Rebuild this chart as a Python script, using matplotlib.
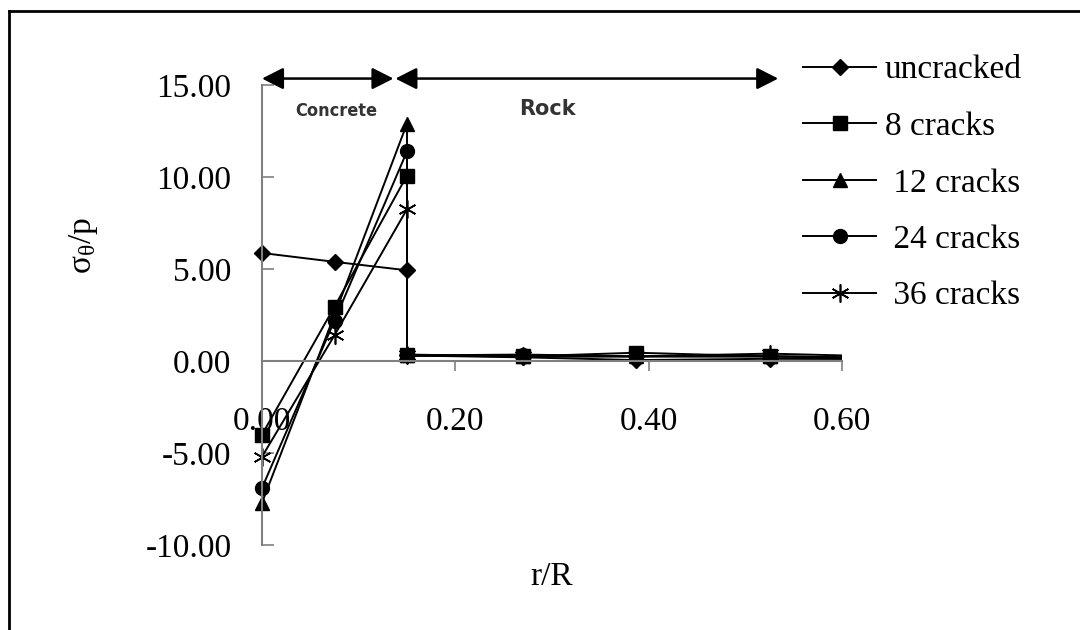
"""Hoop stress ratio across the concrete lining and the rock, cracked vs uncracked."""

import matplotlib

matplotlib.use("Agg")
import matplotlib.pyplot as plt
from matplotlib.lines import Line2D
from matplotlib.patches import Rectangle
from matplotlib.ticker import FormatStrFormatter

# r/R stations (the 0.15 interface is listed twice: concrete side, rock side)
r_over_R = [0.0, 0.075, 0.15, 0.15, 0.27, 0.387, 0.525, 0.68]

uncracked = [5.87, 5.39, 4.93, 0.30, 0.20, 0.05, 0.12, 0.10]
cracks_8 = [-4.0, 2.95, 10.08, 0.35, 0.25, 0.45, 0.25, 0.15]
cracks_12 = [-7.7, 2.5, 12.9, 0.30, 0.25, 0.25, 0.25, 0.15]
cracks_24 = [-6.9, 2.2, 11.39, 0.30, 0.35, 0.25, 0.25, 0.15]
cracks_36 = [-5.2, 1.4, 8.25, 0.30, 0.25, 0.25, 0.40, 0.20]

series_labels = ["uncracked", "8 cracks", " 12 cracks", " 24 cracks", " 36 cracks"]

y_ticks = [-10, -5, 0, 5, 10, 15]
x_ticks = [0.0, 0.2, 0.4, 0.6]

# zone markers drawn above the plot
concrete_span = (0.0, 0.136)
rock_span = (0.138, 0.534)
zone_level = 15.35

plt.rcParams.update({
    "font.family": ["Liberation Serif", "DejaVu Serif"],
    "font.size": 24,
})

fig = plt.figure(figsize=(10.8, 6.3), dpi=100)
ax = fig.add_axes([262 / 1080, 1 - 545 / 630, 580 / 1080, 460 / 630])

styles = [
    dict(marker="D", markersize=8),
    dict(marker="s", markersize=10),
    dict(marker="^", markersize=10),
    dict(marker="o", markersize=10),
    dict(marker=(6, 2, 0), markersize=13, markeredgewidth=1.2),
]
all_series = [uncracked, cracks_8, cracks_12, cracks_24, cracks_36]
# clip at the right end of the x axis only, so markers sitting on the y axis stay whole
clip_box = Rectangle((-0.1, -0.1), 1.1, 1.2, transform=ax.transAxes)
for values, label, style in zip(all_series, series_labels, styles):
    line, = ax.plot(r_over_R, values, color="black", linewidth=1.4, label=label, **style)
    line.set_clip_path(clip_box)

ax.set_xlim(0, 0.6)
ax.set_ylim(-10, 15)

for side in ("top", "right"):
    ax.spines[side].set_visible(False)
ax.spines["bottom"].set_position(("data", 0))
for side in ("left", "bottom"):
    ax.spines[side].set_color("#808080")
    ax.spines[side].set_linewidth(1.5)

ax.set_yticks(y_ticks)
ax.set_xticks(x_ticks)
ax.yaxis.set_major_formatter(FormatStrFormatter("%.2f"))
ax.xaxis.set_major_formatter(FormatStrFormatter("%.2f"))
ax.tick_params(axis="y", direction="in", length=8.5, width=1.2, color="#808080", pad=22)
ax.tick_params(axis="x", direction="out", length=7, width=1.2, color="#808080", pad=26)

ax.set_xlabel("r/R")
ax.xaxis.set_label_coords(0.5, -0.035)
ax.set_ylabel(r"$\mathregular{\sigma_{\theta}/p}$")
ax.yaxis.set_label_coords(-0.28, 0.65)

arrow_props = dict(
    arrowstyle="<|-|>,head_length=0.65,head_width=0.33",
    mutation_scale=20,
    color="black",
    lw=1.8,
    shrinkA=0,
    shrinkB=0,
)
for start, end in (concrete_span, rock_span):
    ax.annotate("", xy=(start, zone_level), xytext=(end, zone_level),
                arrowprops=arrow_props, annotation_clip=False)

ax.text(0.077, 13.6, "Concrete", ha="center", va="center", fontsize=13,
        family="DejaVu Sans", fontstretch="condensed", weight="bold", color="#333333")
ax.text(0.295, 13.7, "Rock", ha="center", va="center", fontsize=15,
        family="DejaVu Sans", weight="bold", color="#333333")

ax.legend(
    loc="upper left",
    bbox_to_anchor=(803 / 1080, 1 - 55 / 630),
    bbox_transform=fig.transFigure,
    frameon=False,
    handlelength=2.2,
    handletextpad=0.25,
    labelspacing=0.78,
    borderpad=0,
    borderaxespad=0,
)

# outer frame (top and left edges only are visible in the crop)
fig.add_artist(Line2D([9 / 1080, 1.0], [1 - 11 / 630, 1 - 11 / 630], color="black", lw=2))
fig.add_artist(Line2D([9 / 1080, 9 / 1080], [0.0, 1 - 11 / 630], color="black", lw=2))

fig.savefig("out.png", dpi=100)
